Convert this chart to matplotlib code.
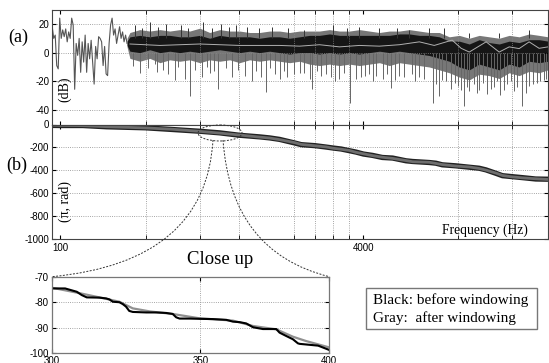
import numpy as np
import matplotlib.pyplot as plt
from matplotlib.patches import Ellipse, PathPatch, Rectangle
from matplotlib.path import Path
from matplotlib.ticker import NullFormatter, NullLocator

plt.rcParams['font.family'] = ['Liberation Sans', 'DejaVu Sans']
plt.rcParams['axes.unicode_minus'] = False
SERIF = ['Liberation Serif', 'DejaVu Serif']

# (a) magnitude, sparse low-frequency part (dB)
low_db = [18, 9.9, 12.2, -9, -11.3, 24, 9.9, 15.8, 11.1, 16.5, 7.5, 14.4, 9.9, 24, 19.2,
          -25.5, 6.4, -1.9, 9.9, -13.7, 7.5, -6.6, 12.2, -13.7, 6.4, -4.3, 8.6, -6.6, -21.9,
          4.3, -4.3, 11.1, 9.9, 7.5, -9, 4.3, -14.8, -16, 6.4, 19.2, 24, 12.2, 16.5, 6.4,
          12.2, 18, 9.9, 14.4, 7.5, 12.2, 6.4]

# (a) dense part, read as envelopes of the band
env_freq = [226, 234, 264, 298, 337, 380, 429, 484, 547, 617, 697, 787, 888, 1003, 1132,
            1278, 1443, 1630, 1840, 2077, 2345, 2648, 2989, 3375, 3810, 4302, 4857, 5483,
            6191, 6989, 7891, 8909, 10058, 11355, 12820, 14474, 16341, 18449, 20829, 23516,
            26549, 29974, 33840, 37700]
upper_outer = [10, 14, 16, 15, 16, 15, 16, 15, 17, 14, 16, 15, 15, 14, 14, 15, 15, 14, 15, 15,
               15, 16, 15, 15, 16, 15, 14, 15, 15, 16, 15, 14, 14, 11, 12, 10, 12, 11, 10, 12,
               11, 13, 12, 11]
upper_inner = [8, 11, 12, 11, 12, 12, 11, 11, 12, 10, 12, 11, 11, 11, 10, 11, 11, 10, 11, 12,
               12, 13, 12, 12, 12, 12, 12, 12, 13, 13, 12, 12, 11, 8, 8, 6, 9, 7, 6, 8,
               7, 9, 9, 8]
lower_inner = [5, 1, 0, 2, 0, 1, 0, 1, 0, 1, 2, 1, 0, 1, 0, 1, 0, -1, 0, 0,
               -1, 0, -1, 0, -1, 0, 1, 0, 1, 0, -1, -2, -4, -6, -10, -12, -8, -10, -12, -8,
               -10, -6, -7, -6]
lower_outer = [4, -4, -6, -4, -7, -5, -6, -5, -7, -5, -6, -5, -7, -5, -6, -5, -6, -7, -6, -8,
               -9, -8, -9, -8, -9, -8, -7, -9, -7, -8, -9, -10, -12, -14, -17, -19, -15, -16,
               -18, -14, -16, -13, -14, -12]

# (a) smoothed gray curve through the band
center_freq = [234, 337, 547, 888, 1443, 1840, 2345, 2989, 3810, 4857, 6191, 7891, 9458,
               11760, 13120, 14474, 17770, 20829, 23516, 26549, 29974, 33840, 37700]
center_db = [6, 5, 6, 5, 5, 4.5, 5.5, 4, 5, 4.5, 5.5, 7.5, 5, 8.7, 3, 0.4, 7.5, 0.4, 4, 2.8,
             7.5, 3, 4]

# (a) downward spikes below the band
spike_freq = [243, 264, 291, 317, 324, 349, 371, 404, 419, 456, 484, 515, 560, 595, 617, 648,
              680, 749, 806, 867, 944, 1027, 1078, 1146, 1217, 1278, 1358, 1443, 1514, 1570,
              1730, 1840, 1953, 2077, 2153, 2288, 2401, 2551, 2711, 2846, 2989, 3174, 3414,
              3672, 3901, 4095, 4302, 4512, 4679, 5093, 5348, 5613, 5892, 6191, 6573, 7241,
              7510, 7891, 8378, 9343, 9690, 10058, 10420, 10940, 11620, 12210, 12660, 13120,
              13610, 14110, 14474, 15370, 15930, 16341, 17140, 17990, 18890, 19580, 20310,
              21060, 22110, 22930, 24070, 24960, 25890, 27510, 28870, 29974, 31450, 32990,
              34230, 35930, 36810]
spike_db = [-9, -14, -11, -8, -13.7, -12, -15, -19, -10, -18, -30, -12, -17, -10, -14, -13,
            -25, -11, -17, -12, -16, -20, -13, -17, -27.4, -11, -15, -18, -13, -17,
            -15, -14, -14, -18, -25, -13, -16, -15, -17, -20, -18, -14, -35,
            -18, -17, -16, -15, -20, -16, -18, -15, -24.7, -19, -16, -17, -15,
            -20, -17, -18, -35, -22, -30, -19, -20, -25, -21, -23, -26,
            -36.8, -24, -27, -22, -28, -26, -21, -29, -25, -24, -20,
            -29.7, -26, -22, -20, -26.6, -24, -36.8, -28, -23, -22, -20.8,
            -20, -19, -18]

# (a) upward peaks above the band
peak_freq = [249, 270, 298, 328, 362, 434, 473, 567, 632, 705, 777, 846, 967, 1118, 1309,
             1590, 1953, 2754, 3292, 3810, 4857, 6038, 6989, 8909, 10680, 14474, 20829, 29974]
peak_db = [19, 17, 21, 18, 20, 19, 17, 21, 17, 20, 18, 19, 18, 17, 18, 17, 16, 19, 17, 18,
           17, 17, 16, 17, 17, 14, 14, 16]

# (b) unwrapped phase
phase_freq = [91, 100, 132, 176, 283, 395, 547, 697, 888, 1132, 1278, 1443, 1730, 1877, 2225,
              2542, 2754, 3050, 3375, 3658, 4000, 4474, 5033, 5703, 6709, 7269, 8909, 9654,
              10420, 12310, 14474, 16341, 17710, 19990, 21660, 24270, 27610, 32480, 37700]
phase_before = [-8, -9, -9, -20, -29, -44, -59, -73, -94, -108, -117, -130, -161, -176, -185,
                -197, -205, -214, -229, -241, -258, -270, -288, -293, -317, -323, -332, -338,
                -352, -361, -373, -382, -396, -426, -447, -455, -464, -476, -478]
phase_after = [-6, -8, -10, -19, -30, -42, -60, -75, -92, -110, -118, -132, -158, -174, -186,
               -196, -207, -216, -227, -243, -256, -272, -286, -296, -315, -325, -330, -340,
               -350, -363, -371, -384, -398, -424, -445, -457, -466, -474, -480]

# close up, 300-400
zoom_freq_black = [300, 304.2, 307.9, 309.5, 311.1, 315.2, 317.4, 318.5, 319.6, 321.8, 322.9,
                   324.0, 325.1, 326.3, 330.9, 334.3, 337.8, 340.1, 341.3, 342.5, 346.0, 349.7,
                   354.5, 359.5, 362.0, 364.5, 367.0, 369.6, 373.4, 378.6, 379.9, 382.5, 385.2,
                   387.2, 387.9, 395.4, 400]
zoom_black = [-74.6, -74.6, -75.9, -77.2, -78.1, -78.2, -78.5, -78.9, -79.8, -80.0, -80.7,
              -81.7, -83.4, -83.8, -84.0, -84.0, -84.2, -84.6, -85.9, -86.4, -86.4, -86.5,
              -86.6, -86.9, -87.6, -87.8, -88.3, -89.8, -90.5, -90.5, -91.9, -93.2, -94.5,
              -96.1, -96.3, -97.0, -98.7]
zoom_freq_gray = [300, 309.0, 315.2, 321.8, 326.3, 332.1, 340.1, 349.7, 362.0, 369.6, 378.6,
                  385.2, 390.5, 400]
zoom_gray = [-74.3, -76.5, -78.1, -79.8, -82.4, -83.6, -84.6, -86.3, -87.2, -89.3, -90.6,
             -93.5, -95.2, -97.7]

grid_freq = [284, 547, 877, 1730, 2225, 2754, 3372, 4000, 12550, 24270]

W, H = 549, 363
fig = plt.figure(figsize=(W / 100, H / 100), dpi=100)

def frac(x0, y0, x1, y1):
    return [x0 / W, 1 - y1 / H, (x1 - x0) / W, (y1 - y0) / H]

def style(ax):
    ax.set_xscale('log')
    ax.set_xlim(90.75, 37700)
    ax.set_xticks([100, 4000], ['100', '4000'])
    ax.set_xticks(grid_freq, minor=True)
    ax.xaxis.set_minor_formatter(NullFormatter())
    ax.xaxis.grid(True, which='minor', ls=':', color='#888888', lw=0.6)
    ax.yaxis.grid(True, which='major', ls=':', color='#888888', lw=0.6)
    ax.tick_params(which='both', direction='in', length=3, top=True, right=True,
                   labelsize=7, pad=2)
    for s in ax.spines.values():
        s.set_color('#444444')
        s.set_linewidth(0.8)

ax_a = fig.add_axes(frac(52, 9.5, 548, 124.5))
style(ax_a)
ax_a.fill_between(env_freq, lower_outer, upper_outer, color='#777777', lw=0)
ax_a.vlines(spike_freq, 0, spike_db, color='#666666', lw=0.7)
ax_a.vlines(peak_freq, 10, peak_db, color='#333333', lw=0.7)
ax_a.fill_between(env_freq, lower_inner, upper_inner, color='#161616', lw=0)
ax_a.plot(np.geomspace(91, 226, len(low_db)), low_db, color='#555555', lw=0.8)
ax_a.plot(center_freq, center_db, color='#b0b0b0', lw=0.7)
ax_a.set_ylim(-50, 30)
ax_a.set_yticks([-40, -20, 0, 20])
ax_a.tick_params(axis='x', labelbottom=False)

ax_b = fig.add_axes(frac(52, 124.5, 548, 239))
style(ax_b)
ax_b.plot(phase_freq, phase_before, color='#222222', lw=3.8, solid_capstyle='butt')
ax_b.plot(phase_freq, phase_after, color='#6e6e6e', lw=2.0)
ax_b.set_ylim(-1000, 0)
ax_b.set_yticks(range(-1000, 1, 200))
ax_b.tick_params(axis='x', pad=3)

ax_z = fig.add_axes(frac(51.7, 276.7, 329.3, 353.3))
ax_z.set_xscale('log')
ax_z.plot(zoom_freq_gray, zoom_gray, color='#909090', lw=1.6)
ax_z.plot(zoom_freq_black, zoom_black, color='black', lw=1.5)
ax_z.set_xlim(300, 400)
ax_z.set_ylim(-100, -70)
ax_z.xaxis.set_minor_locator(NullLocator())
ax_z.set_xticks([300, 350, 400], ['300', '350', '400'])
ax_z.xaxis.set_minor_formatter(NullFormatter())
ax_z.set_yticks([-100, -90, -80, -70])
ax_z.grid(True, ls=':', color='#888888', lw=0.6)
ax_z.tick_params(direction='in', length=3, top=True, right=True, labelsize=7, pad=2)
for s in ax_z.spines.values():
    s.set_color('#777777')
    s.set_linewidth(0.9)

# annotation layer in pixel coordinates
ov = fig.add_axes([0, 0, 1, 1], zorder=10)
ov.set_xlim(0, W)
ov.set_ylim(H, 0)
ov.axis('off')
ov.patch.set_facecolor('none')

dash = dict(color='#333333', lw=0.7, ls=(0, (2, 1.5)))
ov.add_patch(Ellipse((220, 133), 44, 16, fill=False, **dash))
for p0, p1, p2 in [((213, 140), (206, 262), (52, 276.7)),
                   ((223, 140), (231, 252), (329.3, 276.7))]:
    path = Path([p0, p1, p2], [Path.MOVETO, Path.CURVE3, Path.CURVE3])
    ov.add_patch(PathPatch(path, fill=False, **dash))

ov.text(18, 37, '(a)', family=SERIF, fontsize=13, ha='center', va='center')
ov.text(17, 165, '(b)', family=SERIF, fontsize=13, ha='center', va='center')
ov.text(65, 89, '(dB)', family=SERIF, fontsize=10, rotation=90, ha='center', va='center')
ov.text(65, 201, '(π, rad)', family=SERIF, fontsize=10, rotation=90, ha='center', va='center')
ov.text(485, 230, 'Frequency (Hz)', family=SERIF, fontsize=9.8, ha='center', va='center')
ov.text(220, 259, 'Close up', family=SERIF, fontsize=13.5, ha='center', va='center')
ov.add_patch(Rectangle((366, 288), 171, 41, facecolor='white', edgecolor='#777777', lw=1))
ov.text(373, 300, 'Black: before windowing', family=SERIF, fontsize=11, va='center')
ov.text(373, 318, 'Gray:  after windowing', family=SERIF, fontsize=11, va='center')

fig.savefig('out.png', dpi=100)
